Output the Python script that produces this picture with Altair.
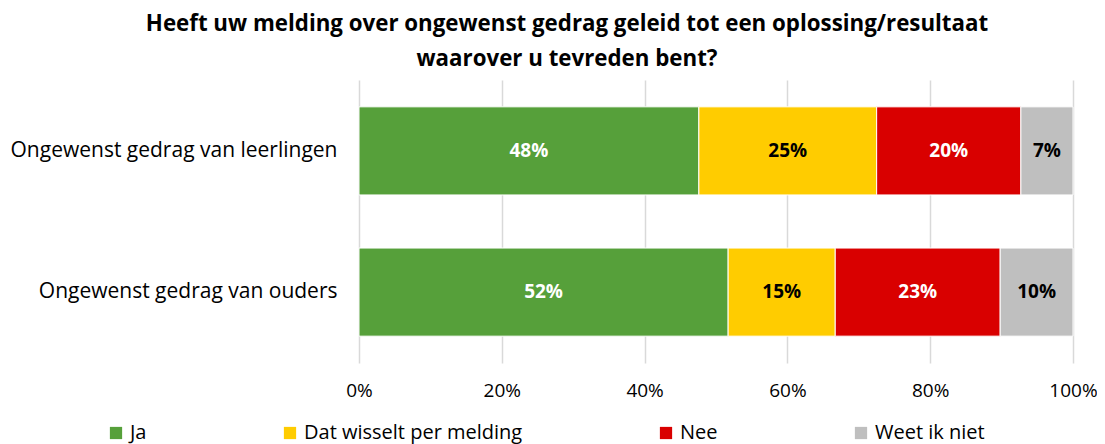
import altair as alt
import pandas as pd

categories = ["Ongewenst gedrag van leerlingen", "Ongewenst gedrag van ouders"]
answers = ["Ja", "Dat wisselt per melding", "Nee", "Weet ik niet"]
colors = ["#56A03A", "#FFCC00", "#D90000", "#BFBFBF"]
label_colors = ["white", "black", "white", "black"]
leerlingen = [0.476, 0.249, 0.202, 0.073]
ouders = [0.517, 0.150, 0.231, 0.102]
x_ticks = [0, 0.2, 0.4, 0.6, 0.8, 1.0]

rows = []
for cat, vals in zip(categories, [leerlingen, ouders]):
    for i, (a, v) in enumerate(zip(answers, vals)):
        rows.append({"cat": cat, "answer": a, "value": v, "order": i,
                     "lc": label_colors[i]})
df = pd.DataFrame(rows)

FONT = "Open Sans, sans-serif"

base = alt.Chart(df).transform_stack(
    stack="value", groupby=["cat"], sort=[alt.SortField("order")], as_=["x0", "x1"]
).transform_calculate(mid="(datum.x0 + datum.x1) / 2")

yenc = alt.Y("cat:N", sort=categories, title=None,
             scale=alt.Scale(paddingInner=0.376, paddingOuter=0.19),
             axis=alt.Axis(ticks=False, domain=False, labelFontSize=21,
                           labelFont=FONT, labelColor="black", labelPadding=22,
                           labelLimit=400))

bars = base.mark_bar(stroke="white", strokeWidth=1).encode(
    x=alt.X("x0:Q", title=None,
            scale=alt.Scale(domain=[0, 1], nice=False),
            axis=alt.Axis(values=x_ticks, format=".0%", labelFontSize=19,
                          labelFont=FONT, labelColor="black", ticks=False,
                          domain=False, gridColor="#D9D9D9", gridWidth=1.5,
                          labelPadding=18, labelFlush=False)),
    x2="x1:Q",
    y=yenc,
    color=alt.Color("answer:N", sort=answers,
                    scale=alt.Scale(domain=answers, range=colors),
                    legend=alt.Legend(title=None, orient="none", direction="horizontal",
                                      columns=4, legendX=-253, legendY=343,
                                      symbolType="square", symbolSize=150,
                                      symbolStrokeWidth=0, labelFontSize=20,
                                      labelFont=FONT, labelColor="black",
                                      columnPadding=133, labelLimit=400,
                                      symbolOffset=0)),
)

labels = base.mark_text(fontSize=19, fontWeight="bold", font=FONT).encode(
    x="mid:Q",
    y=alt.Y("cat:N", sort=categories),
    text=alt.Text("value:Q", format=".0%"),
    color=alt.Color("lc:N", scale=None),
)

chart = alt.layer(bars, labels).properties(
    width=714, height=283,
    title=alt.TitleParams(
        ["Heeft uw melding over ongewenst gedrag geleid tot een oplossing/resultaat",
         "waarover u tevreden bent?"],
        fontSize=22.3, font=FONT, fontWeight="bold", color="black",
        anchor="middle", dx=-149, offset=10, lineHeight=35),
    autosize=alt.AutoSizeParams(type="none"),
    padding={"left": 351, "top": 72, "right": 24, "bottom": 84},
).configure_view(stroke=None)

chart.save("out.html", embed_options={"renderer": "svg", "actions": False})
